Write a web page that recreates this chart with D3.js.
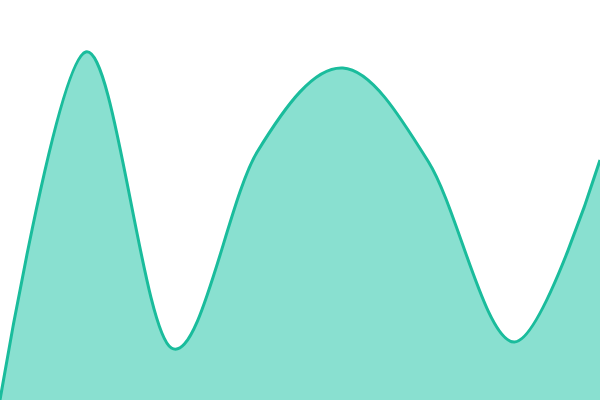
<!DOCTYPE html>
<html><head><meta charset="utf-8">
<script src="https://cdn.jsdelivr.net/npm/d3@7"></script>
<style>html,body{margin:0;padding:0;background:#fff;}svg{display:block;}</style>
</head><body>
<svg id="chart" width="600" height="400"></svg>
<script>
const categories = [0, 1, 2, 3, 4, 5, 6, 7];
const values = [0, 87, 13, 62, 83, 59.5, 14.5, 60];

const W = 600, H = 400;
const svg = d3.select("#chart");
const x = d3.scaleLinear().domain([0, categories.length - 1]).range([0, W]);
const y = d3.scaleLinear().domain([0, 100]).range([H, 0]);
const data = categories.map((c, i) => ({c, v: values[i]}));

const curve = d3.curveCardinal.tension(0);
const area = d3.area().x(d => x(d.c)).y0(H).y1(d => y(d.v)).curve(curve);
const line = d3.line().x(d => x(d.c)).y(d => y(d.v)).curve(curve);

svg.append("path").datum(data).attr("d", area).attr("fill", "#89e0d0");
svg.append("path").datum(data).attr("d", line).attr("fill", "none").attr("stroke", "#1abc9c").attr("stroke-width", 3);
</script>
</body></html>
